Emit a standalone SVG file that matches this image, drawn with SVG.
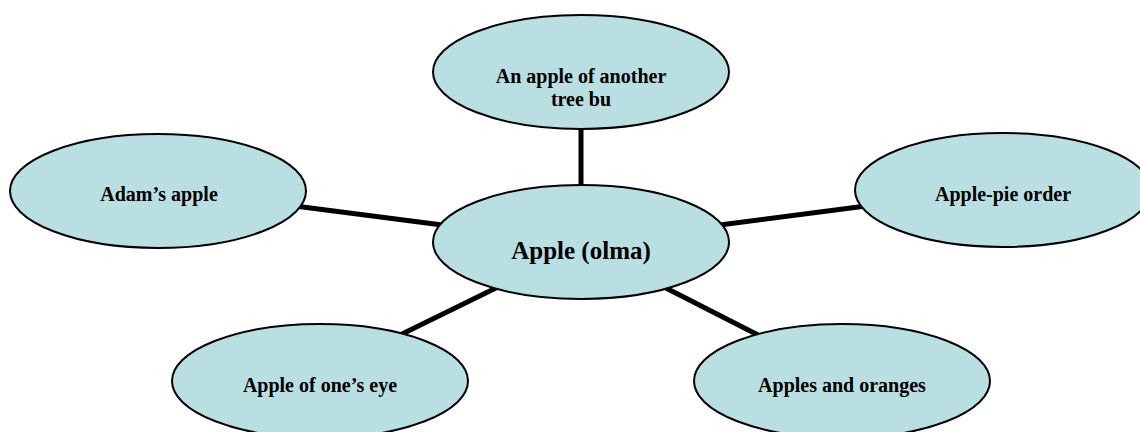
<svg xmlns="http://www.w3.org/2000/svg" width="1140" height="432" viewBox="0 0 1140 432">
<style>
.node ellipse{fill:#b9dfe2;stroke:#000;stroke-width:2}
.node text{font-family:"Liberation Serif","Times New Roman",serif;font-weight:bold;font-size:20px;fill:#000;text-anchor:middle}
.conn line{stroke:#000;stroke-width:5}
</style>
<rect width="1140" height="432" fill="#fff"/>
<g id="connectors" class="conn">
<line x1="581" y1="125" x2="581" y2="190"/>
<line x1="295" y1="206" x2="450" y2="226"/>
<line x1="712" y1="226" x2="866" y2="206"/>
<line x1="400" y1="335" x2="500" y2="286"/>
<line x1="660" y1="285" x2="762" y2="337"/>
</g>
<g id="node-top" class="node">
<ellipse cx="581" cy="72" rx="148" ry="57"/>
<text x="581" y="83">An apple of another</text>
<text x="581" y="106">tree bu</text>
</g>
<g id="node-left" class="node">
<ellipse cx="158" cy="191" rx="148" ry="57"/>
<text x="159" y="201">Adam’s apple</text>
</g>
<g id="node-right" class="node">
<ellipse cx="1003" cy="190" rx="148" ry="57"/>
<text x="1003" y="201">Apple-pie order</text>
</g>
<g id="node-bottom-left" class="node">
<ellipse cx="320" cy="381" rx="148" ry="57"/>
<text x="320" y="392">Apple of one’s eye</text>
</g>
<g id="node-bottom-right" class="node">
<ellipse cx="842" cy="381" rx="148" ry="57"/>
<text x="842" y="392">Apples and oranges</text>
</g>
<g id="node-center" class="node">
<ellipse cx="581" cy="242" rx="148" ry="57"/>
<text x="581" y="259" style="font-size:25px">Apple (olma)</text>
</g>
</svg>
